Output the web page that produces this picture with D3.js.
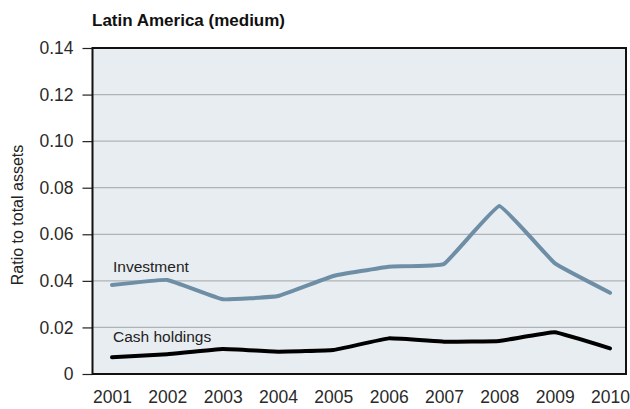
<!DOCTYPE html>
<html>
<head>
<meta charset="utf-8">
<script src="https://cdn.jsdelivr.net/npm/d3@7"></script>
<style>
  html, body { margin: 0; padding: 0; background: #fff; }
  svg { display: block; font-family: "Liberation Sans", Arial, sans-serif; }
</style>
</head>
<body>
<svg id="chart" width="630" height="409"></svg>
<script>
// Latin America (medium): investment and cash holdings as a ratio to total assets
const years = [2001, 2002, 2003, 2004, 2005, 2006, 2007, 2008, 2009, 2010];
const investment = [0.0382, 0.0404, 0.0321, 0.0335, 0.0421, 0.0461, 0.0472, 0.0721, 0.0476, 0.0349];
const cashHoldings = [0.0072, 0.0085, 0.0107, 0.0096, 0.0103, 0.0153, 0.0139, 0.0142, 0.0179, 0.0110];
const yTicks = [0, 0.02, 0.04, 0.06, 0.08, 0.10, 0.12, 0.14];

const svg = d3.select("#chart");
const m = { left: 92.5, right: 626, top: 48, bottom: 374 };

const x = d3.scalePoint().domain(years).range([112, 610]);
const y = d3.scaleLinear().domain([0, 0.14]).range([m.bottom, m.top]);

// plot background
svg.append("rect")
  .attr("x", m.left).attr("y", m.top)
  .attr("width", m.right - m.left).attr("height", m.bottom - m.top)
  .attr("fill", "#e8edf1");

// horizontal gridlines
svg.append("g").selectAll("line")
  .data(yTicks.filter(d => d > 0 && d < 0.14))
  .join("line")
  .attr("x1", m.left).attr("x2", m.right)
  .attr("y1", d => y(d)).attr("y2", d => y(d))
  .attr("stroke", "#b0b3b6").attr("stroke-width", 1.2);

// y axis with outside ticks
const yAxis = svg.append("g")
  .attr("transform", `translate(${m.left},0)`)
  .call(d3.axisLeft(y).tickValues(yTicks)
    .tickFormat(d => d === 0 ? "0" : d3.format(".2f")(d))
    .tickSize(10).tickPadding(9));
yAxis.select(".domain").remove();
yAxis.selectAll(".tick line").attr("stroke", "#222").attr("stroke-width", 1.2);
yAxis.selectAll(".tick text")
  .attr("fill", "#2a2a2a").style("font-size", "17.5px").style("font-family", "inherit");

// x axis labels (no tick marks)
const xAxis = svg.append("g")
  .attr("transform", `translate(0,${m.bottom})`)
  .call(d3.axisBottom(x).tickSize(0).tickPadding(17));
xAxis.select(".domain").remove();
xAxis.selectAll(".tick text")
  .attr("fill", "#2a2a2a").style("font-size", "17.5px").style("font-family", "inherit");

// plot frame
svg.append("rect")
  .attr("x", m.left).attr("y", m.top)
  .attr("width", m.right - m.left).attr("height", m.bottom - m.top)
  .attr("fill", "none").attr("stroke", "#111").attr("stroke-width", 2);

// series lines
const line = d3.line()
  .x((d, i) => x(years[i]))
  .y(d => y(d))
  .curve(d3.curveCardinal.tension(0.75));

svg.append("path")
  .datum(investment)
  .attr("d", line)
  .attr("fill", "none").attr("stroke", "#6e8ea6")
  .attr("stroke-width", 4).attr("stroke-linejoin", "round").attr("stroke-linecap", "round");

svg.append("path")
  .datum(cashHoldings)
  .attr("d", line)
  .attr("fill", "none").attr("stroke", "#000")
  .attr("stroke-width", 4).attr("stroke-linejoin", "round").attr("stroke-linecap", "round");

// series labels
svg.append("text").attr("x", 113).attr("y", 272)
  .attr("fill", "#222").style("font-size", "15.5px").text("Investment");
svg.append("text").attr("x", 113).attr("y", 342)
  .attr("fill", "#222").style("font-size", "15.5px").text("Cash holdings");

// title
svg.append("text").attr("x", 92).attr("y", 26)
  .attr("fill", "#111").style("font-size", "17px").style("font-weight", "bold")
  .text("Latin America (medium)");

// y axis title
svg.append("text")
  .attr("transform", "translate(23,215) rotate(-90)")
  .attr("text-anchor", "middle")
  .attr("fill", "#222").style("font-size", "16px")
  .text("Ratio to total assets");
</script>
</body>
</html>
